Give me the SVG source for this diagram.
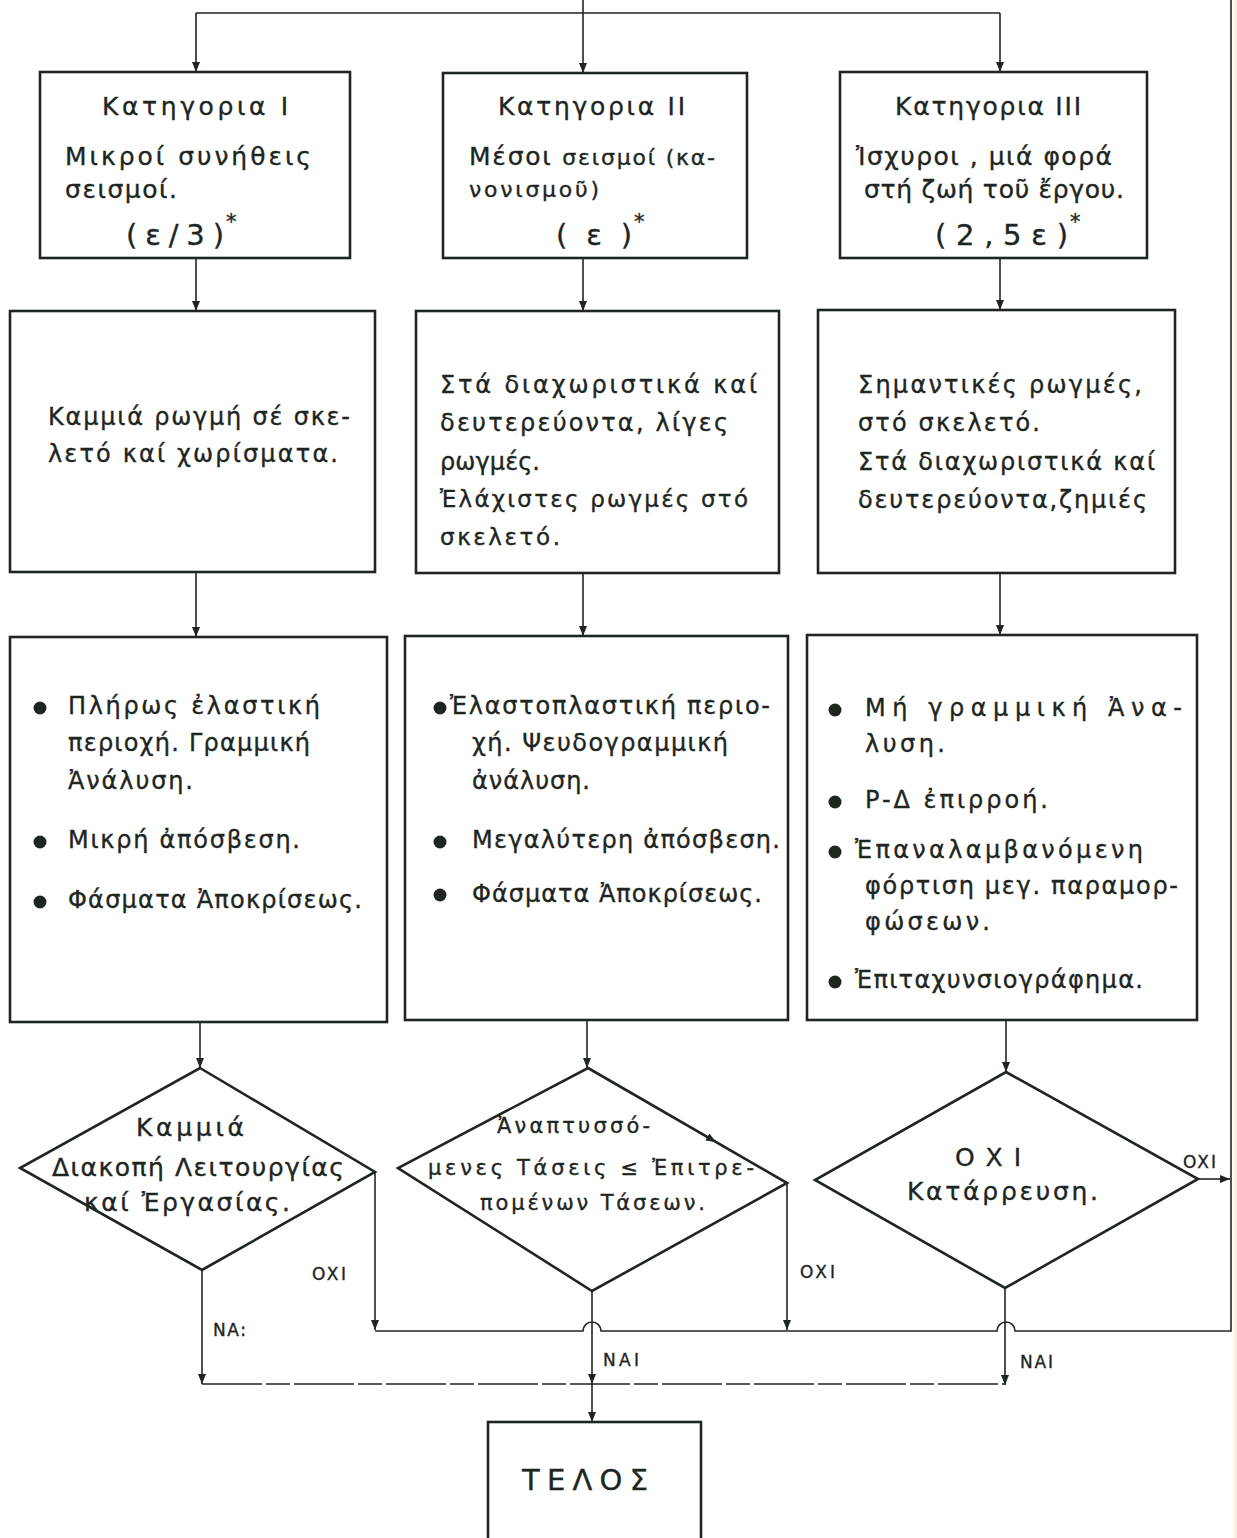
<svg xmlns="http://www.w3.org/2000/svg" width="1237" height="1538" viewBox="0 0 1237 1538">
<defs>
<style>
.t{font-family:"DejaVu Sans","Noto Sans",sans-serif;fill:#1e261f;stroke:#1e261f;stroke-width:0.35}
.s25{font-size:25px}.s24{font-size:24px}.s23{font-size:23px}.s22{font-size:22px}.s21{font-size:21px}.s20{font-size:20px}.s29{font-size:29px}
.lb{font-size:17px}
.box{fill:none;stroke:#1e261f;stroke-width:2.6}
.dia{fill:none;stroke:#1e261f;stroke-width:2.6;stroke-linejoin:miter}
.ln{fill:none;stroke:#1e261f;stroke-width:1.6}
.dash{fill:none;stroke:#1e261f;stroke-width:1.6;stroke-dasharray:60 4 24 4}
.dot{fill:#1e261f}
</style>
<marker id="ah" markerUnits="userSpaceOnUse" markerWidth="10" markerHeight="8" refX="10" refY="4" orient="auto">
<path d="M0,0 L10,4 L0,8 z" fill="#1e261f"/>
</marker>
</defs>
<rect width="1237" height="1538" fill="#ffffff"/>
<rect x="1234" y="0" width="3" height="1538" fill="#f4f0dc"/>

<g id="connectors">
<path class="ln" d="M583,0 V73" marker-end="url(#ah)"/>
<path class="ln" d="M196,13 H1000"/>
<path class="ln" d="M196,13 V72" marker-end="url(#ah)"/>
<path class="ln" d="M1000,13 V72" marker-end="url(#ah)"/>
<path class="ln" d="M196,258 V311" marker-end="url(#ah)"/>
<path class="ln" d="M583,258 V311" marker-end="url(#ah)"/>
<path class="ln" d="M1000,258 V310" marker-end="url(#ah)"/>
<path class="ln" d="M196,572 V637" marker-end="url(#ah)"/>
<path class="ln" d="M583,573 V636" marker-end="url(#ah)"/>
<path class="ln" d="M1000,573 V635" marker-end="url(#ah)"/>
<path class="ln" d="M200,1022 V1068" marker-end="url(#ah)"/>
<path class="ln" d="M587,1020 V1068" marker-end="url(#ah)"/>
<path class="ln" d="M1006,1020 V1072" marker-end="url(#ah)"/>
<path class="ln" d="M375,1172 V1330" marker-end="url(#ah)"/>
<path class="ln" d="M787,1183 V1330" marker-end="url(#ah)"/>
<path class="ln" d="M1198,1179 H1230" marker-end="url(#ah)"/>
<path class="ln" d="M1231,0 V1331 H1015 A9,9 0 0 0 997,1331 H601 A9,9 0 0 0 583,1331 H375"/>
<path class="ln" d="M202,1270 V1384" marker-end="url(#ah)"/>
<path class="ln" d="M1005,1288 V1385" marker-end="url(#ah)"/>
<path class="ln" d="M592,1291 V1384" marker-end="url(#ah)"/>
<path class="ln" d="M592,1384 V1422" marker-end="url(#ah)"/>
<path class="dash" d="M202,1384 H1005"/>
<path class="ln" d="M700,1132.7 L716,1142" marker-end="url(#ah)"/>
<text class="t lb" x="312" y="1280" textLength="34">OXI</text>
<text class="t lb" x="213" y="1336" textLength="33">NA:</text>
<text class="t lb" x="800" y="1278" textLength="35">OXI</text>
<text class="t lb" x="603" y="1366" textLength="36">NAI</text>
<text class="t lb" x="1183" y="1168" textLength="33">OXI</text>
<text class="t lb" x="1020" y="1368" textLength="33">NAI</text>
</g>

<g id="cat1">
<rect class="box" x="40" y="72" width="310" height="186"/>
<text class="t s25" x="102" y="115" textLength="186">Κατηγορια I</text>
<text class="t s25" x="65" y="165" textLength="246">Μικροί συνήθεις</text>
<text class="t s25" x="65" y="198" textLength="112">σεισμοί.</text>
<text class="t s29" x="126" y="245" textLength="98">(ε/3)</text>
<text class="t s21" x="226" y="229">*</text>
</g>

<g id="cat2">
<rect class="box" x="443" y="73" width="304" height="185"/>
<text class="t s25" x="498" y="115" textLength="187">Κατηγορια II</text>
<text class="t s25" x="469" y="165" textLength="246">Μέσοι <tspan class="s22">σεισμοί (κα-</tspan></text>
<text class="t s22" x="469" y="197" textLength="130">νονισμοῦ)</text>
<text class="t s29" x="556" y="245" textLength="76">(ε)</text>
<text class="t s21" x="634" y="229">*</text>
</g>

<g id="cat3">
<rect class="box" x="840" y="72" width="307" height="186"/>
<text class="t s25" x="895" y="115" textLength="186">Κατηγορια III</text>
<text class="t s25" x="856" y="165" textLength="256">Ἰσχυροι , μιά φορά</text>
<text class="t s25" x="864" y="198" textLength="260">στή ζωή τοῦ ἔργου.</text>
<text class="t s29" x="935" y="245" textLength="133">(2,5ε)</text>
<text class="t s21" x="1070" y="229">*</text>
</g>

<g id="dmg1">
<rect class="box" x="10" y="311" width="365" height="261"/>
<text class="t s24" x="48" y="425" textLength="302">Καμμιά ρωγμή σέ σκε-</text>
<text class="t s24" x="48" y="462" textLength="290">λετό καί χωρίσματα.</text>
</g>

<g id="dmg2">
<rect class="box" x="416" y="311" width="363" height="262"/>
<text class="t s24" x="440" y="393" textLength="317">Στά διαχωριστικά καί</text>
<text class="t s24" x="440" y="431" textLength="288">δευτερεύοντα, λίγες</text>
<text class="t s24" x="440" y="470" textLength="100">ρωγμές.</text>
<text class="t s23" x="440" y="507" textLength="308">Ἐλάχιστες ρωγμές στό</text>
<text class="t s23" x="440" y="545" textLength="120">σκελετό.</text>
</g>

<g id="dmg3">
<rect class="box" x="818" y="310" width="357" height="263"/>
<text class="t s24" x="858" y="393" textLength="284">Σημαντικές ρωγμές,</text>
<text class="t s24" x="858" y="431" textLength="182">στό σκελετό.</text>
<text class="t s24" x="858" y="470" textLength="297">Στά διαχωριστικά καί</text>
<text class="t s24" x="858" y="508" textLength="289">δευτερεύοντα,ζημιές</text>
</g>

<g id="ana1">
<rect class="box" x="10" y="637" width="377" height="385"/>
<circle class="dot" cx="40" cy="708" r="6.5"/>
<circle class="dot" cx="40" cy="842" r="6.5"/>
<circle class="dot" cx="40" cy="902" r="6.5"/>
<text class="t s24" x="68" y="714" textLength="252">Πλήρως ἐλαστική</text>
<text class="t s24" x="68" y="751" textLength="242">περιοχή. Γραμμική</text>
<text class="t s24" x="68" y="789" textLength="125">Ἀνάλυση.</text>
<text class="t s24" x="68" y="848" textLength="232">Μικρή ἀπόσβεση.</text>
<text class="t s24" x="68" y="908" textLength="294">Φάσματα Ἀποκρίσεως.</text>
</g>

<g id="ana2">
<rect class="box" x="405" y="636" width="383" height="384"/>
<circle class="dot" cx="440" cy="708" r="6.5"/>
<circle class="dot" cx="440" cy="842" r="6.5"/>
<circle class="dot" cx="440" cy="895" r="6.5"/>
<text class="t s24" x="450" y="714" textLength="320">Ἐλαστοπλαστική περιο-</text>
<text class="t s24" x="472" y="751" textLength="256">χή. Ψευδογραμμική</text>
<text class="t s24" x="472" y="789" textLength="118">ἀνάλυση.</text>
<text class="t s24" x="472" y="848" textLength="308">Μεγαλύτερη ἀπόσβεση.</text>
<text class="t s24" x="472" y="902" textLength="290">Φάσματα Ἀποκρίσεως.</text>
</g>

<g id="ana3">
<rect class="box" x="807" y="635" width="390" height="385"/>
<circle class="dot" cx="835" cy="710" r="6.5"/>
<circle class="dot" cx="835" cy="802" r="6.5"/>
<circle class="dot" cx="835" cy="852" r="6.5"/>
<circle class="dot" cx="835" cy="982" r="6.5"/>
<text class="t s24" x="865" y="716" textLength="317">Μή γραμμική  Ἀνα-</text>
<text class="t s24" x="865" y="752" textLength="80">λυση.</text>
<text class="t s24" x="865" y="808" textLength="183">P-Δ ἐπιρροή.</text>
<text class="t s24" x="855" y="858" textLength="288">Ἐπαναλαμβανόμενη</text>
<text class="t s24" x="865" y="894" textLength="313">φόρτιση μεγ. παραμορ-</text>
<text class="t s24" x="865" y="930" textLength="125">φώσεων.</text>
<text class="t s24" x="855" y="988" textLength="288">Ἐπιταχυνσιογράφημα.</text>
</g>

<g id="dec1">
<polygon class="dia" points="200,1068 375,1172 202,1270 20,1168"/>
<text class="t s25" x="136" y="1136" textLength="108">Καμμιά</text>
<text class="t s25" x="52" y="1176" textLength="292">Διακοπή Λειτουργίας</text>
<text class="t s25" x="84" y="1211" textLength="206">καί Ἐργασίας.</text>
</g>

<g id="dec2">
<polygon class="dia" points="588,1068 787,1183 592,1291 398,1168"/>
<text class="t s21" x="497" y="1133" textLength="153">Ἀναπτυσσό-</text>
<text class="t s21" x="428" y="1175" textLength="326">μενες Τάσεις ≤ Ἐπιτρε-</text>
<text class="t s21" x="480" y="1210" textLength="225">πομένων Τάσεων.</text>
</g>

<g id="dec3">
<polygon class="dia" points="1006,1072 1198,1179 1005,1288 815,1180"/>
<text class="t s25" x="955" y="1166" textLength="66">ΟΧΙ</text>
<text class="t s25" x="907" y="1200" textLength="191">Κατάρρευση.</text>
</g>

<g id="end">
<rect class="box" x="488" y="1422" width="213" height="130"/>
<text class="t s29" x="522" y="1490" textLength="126">ΤΕΛΟΣ</text>
</g>
</svg>
